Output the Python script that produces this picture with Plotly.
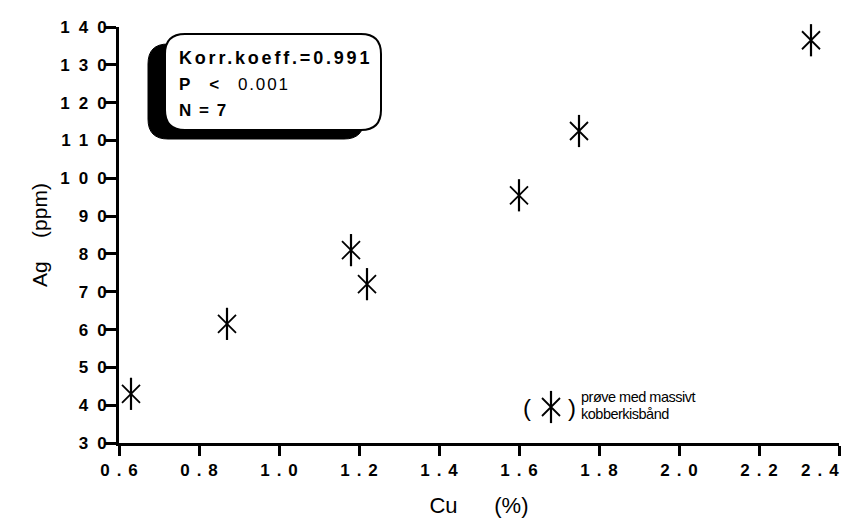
import plotly.graph_objects as go

# ---- data ----
cu_pct = [0.63, 0.87, 1.18, 1.22, 1.60, 1.75, 2.33]
ag_ppm = [43, 61.5, 81, 72, 95.5, 112.5, 136.5]

x_tick_vals = [0.6, 0.8, 1.0, 1.2, 1.4, 1.6, 1.8, 2.0, 2.2, 2.4]
x_tick_labels = ["0.6", "0.8", "1.0", "1.2", "1.4", "1.6", "1.8", "2.0", "2.2", "2.4"]
y_tick_vals = [30, 40, 50, 60, 70, 80, 90, 100, 110, 120, 130, 140]
y_tick_labels = ["30", "40", "50", "60", "70", "80", "90", "100", "110", "120", "130", "140"]

stats_lines = ["Korr.koeff.=0.991", "P", "<", "0.001", "N = 7"]
legend_lines = ["prøve med massivt", "kobberkisbånd"]
x_title = ["Cu", "(%)"]
y_title = ["Ag", "(ppm)"]

# ---- layout geometry ----
OFF = 8                      # page body margin in the browser
W, H = 855 - OFF, 529 - OFF  # figure size so it fits the window
# plot area in screen pixels
SL, SR, ST, SB = 119, 839, 27, 443
L, R, T, B = SL - OFF, SR - OFF, ST - OFF, SB - OFF
NB = "\u00a0"


def px(xs):
    return (xs - SL) / (SR - SL)


def py(ys):
    return (SB - ys) / (SB - ST)


def spaced(s, ls):
    if len(s) < 2:
        return s
    return "<span style='letter-spacing:%spx'>%s</span>%s" % (ls, s[:-1], s[-1])


def rounded_rect(x0, y0, x1, y1, r):
    pts = [
        "M %f,%f" % (px(x0 + r), py(y0)),
        "L %f,%f" % (px(x1 - r), py(y0)),
        "Q %f,%f %f,%f" % (px(x1), py(y0), px(x1), py(y0 + r)),
        "L %f,%f" % (px(x1), py(y1 - r)),
        "Q %f,%f %f,%f" % (px(x1), py(y1), px(x1 - r), py(y1)),
        "L %f,%f" % (px(x0 + r), py(y1)),
        "Q %f,%f %f,%f" % (px(x0), py(y1), px(x0), py(y1 - r)),
        "L %f,%f" % (px(x0), py(y0 + r)),
        "Q %f,%f %f,%f" % (px(x0), py(y0), px(x0 + r), py(y0)),
        "Z",
    ]
    return " ".join(pts)


FONT = "Liberation Sans, Arial, Helvetica, sans-serif"
X_SIZE, X_LW = 18, 1.8
V_SIZE, V_LW = 23, 2.2
TICKFONT = dict(family=FONT, size=17, weight="bold", color="black")

fig = go.Figure()

# asterisk markers: X + vertical bar
fig.add_trace(go.Scatter(
    x=cu_pct, y=ag_ppm, mode="markers", showlegend=False, cliponaxis=False,
    marker=dict(symbol="x-thin-open", size=X_SIZE, color="black",
                line=dict(width=X_LW, color="black")),
    hoverinfo="x+y"))
fig.add_trace(go.Scatter(
    x=cu_pct, y=ag_ppm, mode="markers", showlegend=False, cliponaxis=False,
    marker=dict(symbol="line-ns-open", size=V_SIZE, color="black",
                line=dict(width=V_LW, color="black")),
    hoverinfo="skip"))

# legend key glyph (overlay axes spanning the plot area, range 0..1)
for sym, sz, lw in [("x-thin-open", X_SIZE, X_LW), ("line-ns-open", V_SIZE, V_LW)]:
    fig.add_trace(go.Scatter(
        x=[px(551)], y=[py(407)], xaxis="x2", yaxis="y2", mode="markers",
        showlegend=False, hoverinfo="skip", cliponaxis=False,
        marker=dict(symbol=sym, size=sz, color="black",
                    line=dict(width=lw, color="black"))))

axis_common = dict(
    showline=True, linewidth=3, linecolor="black", ticks="outside",
    tickwidth=2.5, tickcolor="black", showgrid=False, zeroline=False,
    tickmode="array", ticklabeloverflow="allow",
)

# last x label is drawn right-aligned to its tick (as in the reference), below
x_ticktext = [spaced(t, 7) for t in x_tick_labels[:-1]] + [""]

fig.update_layout(
    width=W, height=H,
    margin=dict(l=L, r=W - R, t=T, b=H - B, autoexpand=False),
    paper_bgcolor="white", plot_bgcolor="white",
    font=dict(family=FONT, color="black"),
    xaxis=dict(
        **axis_common, range=[0.6, 2.4], ticklen=10,
        tickvals=x_tick_vals, ticktext=x_ticktext,
        tickfont=TICKFONT,
        title=dict(text=x_title[0] + NB * 6 + x_title[1],
                   font=dict(family=FONT, size=22, color="black"), standoff=19),
    ),
    yaxis=dict(
        **axis_common, range=[30, 140], ticklen=11, ticklabelstandoff=-5,
        tickvals=y_tick_vals, ticktext=[spaced(t, 9) for t in y_tick_labels],
        tickfont=TICKFONT,
        title=dict(text=y_title[0] + NB * 4 + y_title[1],
                   font=dict(family=FONT, size=21, color="black"), standoff=7),
    ),
    xaxis2=dict(overlaying="x", range=[0, 1], visible=False, fixedrange=True),
    yaxis2=dict(overlaying="y", range=[0, 1], visible=False, fixedrange=True),
    shapes=[
        dict(type="path", xref="paper", yref="paper",
             path=rounded_rect(148, 44, 364, 139, 20),
             fillcolor="black", line=dict(color="black", width=1), layer="above"),
        dict(type="path", xref="paper", yref="paper",
             path=rounded_rect(165, 34, 381, 130, 20),
             fillcolor="white", line=dict(color="black", width=2), layer="above"),
    ],
)

ann = []
ann.append(dict(x=x_tick_vals[-1], xref="x", y=py(470), yref="paper", showarrow=False,
                xanchor="right", yanchor="middle", xshift=2,
                text=spaced(x_tick_labels[-1], 7), font=TICKFONT))
ann.append(dict(x=px(177), y=py(58), xref="paper", yref="paper", showarrow=False,
                xanchor="left", yanchor="middle",
                text="<b>" + spaced(stats_lines[0], 2.8) + "</b>",
                font=dict(family=FONT, size=18, color="black")))
ann.append(dict(x=px(177), y=py(85), xref="paper", yref="paper", showarrow=False,
                xanchor="left", yanchor="middle",
                text="<b>" + stats_lines[1] + "</b>" + NB * 4 + "<b>" + stats_lines[2]
                     + "</b>" + NB * 4 + spaced(stats_lines[3], 1.8),
                font=dict(family=FONT, size=17, color="black")))
ann.append(dict(x=px(177), y=py(111), xref="paper", yref="paper", showarrow=False,
                xanchor="left", yanchor="middle",
                text="<b>" + spaced(stats_lines[4], 1.5) + "</b>",
                font=dict(family=FONT, size=17, color="black")))
# legend text
ann.append(dict(x=px(527), y=py(407), xref="paper", yref="paper", showarrow=False,
                xanchor="center", yanchor="middle", text="(",
                font=dict(family=FONT, size=24, color="black")))
ann.append(dict(x=px(572), y=py(407), xref="paper", yref="paper", showarrow=False,
                xanchor="center", yanchor="middle", text=")",
                font=dict(family=FONT, size=24, color="black")))
ann.append(dict(x=px(579), y=py(397), xref="paper", yref="paper", showarrow=False,
                xanchor="left", yanchor="middle",
                text="<span style='letter-spacing:-0.5px'>" + legend_lines[0] + "</span>",
                font=dict(family=FONT, size=14.5, color="black")))
ann.append(dict(x=px(579), y=py(414), xref="paper", yref="paper", showarrow=False,
                xanchor="left", yanchor="middle",
                text="<span style='letter-spacing:-0.5px'>" + legend_lines[1] + "</span>",
                font=dict(family=FONT, size=14.5, color="black")))
fig.update_layout(annotations=ann)

fig.write_html("out.html")
